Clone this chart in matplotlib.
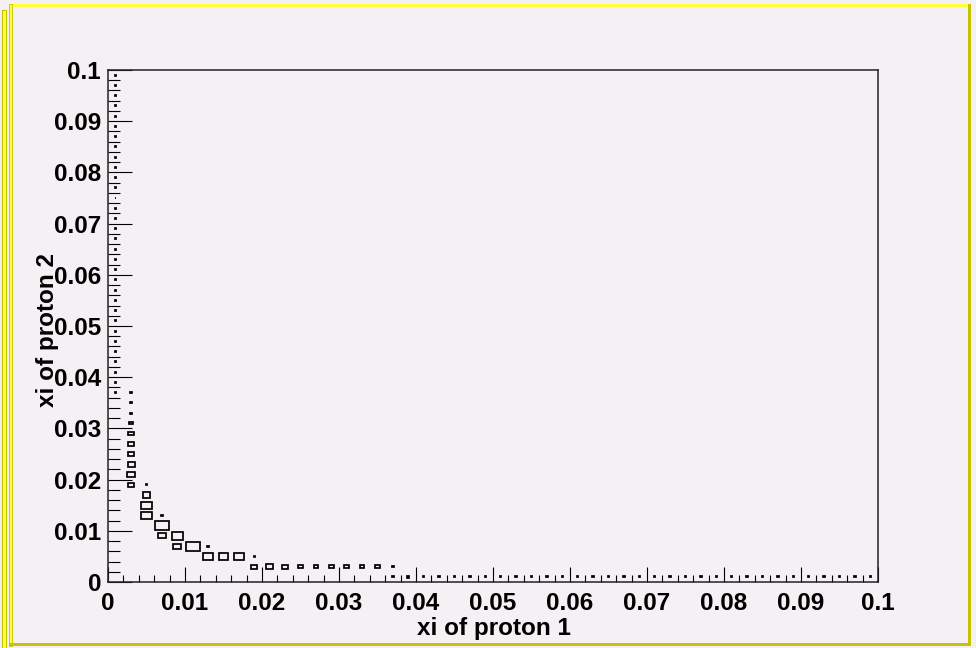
import matplotlib
matplotlib.use("Agg")
import matplotlib.pyplot as plt
from matplotlib.patches import Rectangle
import numpy as np

plt.rcParams['font.family'] = ['Liberation Sans', 'DejaVu Sans']
plt.rcParams['font.weight'] = 'bold'

# 2D histogram xi1 vs xi2, 50 x 50 bins over [0, 0.1]
nbins = 50
lo, hi = 0.0, 0.1

# filled cells in the low-xi corner (bin centres, entries)
core_xi1 = [0.003, 0.003, 0.003, 0.003, 0.003, 0.003, 0.003, 0.003, 0.003, 0.003,
            0.005, 0.005, 0.005, 0.005,
            0.007, 0.007, 0.007,
            0.009, 0.009,
            0.011, 0.013, 0.013, 0.015, 0.017, 0.019, 0.019,
            0.021, 0.023, 0.025, 0.027, 0.029, 0.031, 0.033, 0.035, 0.037]
core_xi2 = [0.037, 0.035, 0.033, 0.031, 0.029, 0.027, 0.025, 0.023, 0.021, 0.019,
            0.019, 0.017, 0.015, 0.013,
            0.013, 0.011, 0.009,
            0.009, 0.007,
            0.007, 0.007, 0.005, 0.005, 0.005, 0.005, 0.003,
            0.003, 0.003, 0.003, 0.003, 0.003, 0.003, 0.003, 0.003, 0.003]
core_n = [1, 1, 1, 7, 17, 17, 23, 25, 30, 21,
          1, 33, 63, 68,
          1, 91, 30,
          70, 32,
          100, 1, 46, 49, 46, 1, 21,
          24, 18, 10, 10, 12, 12, 10, 10, 1]

# single-entry strip along xi1 = 0.001
strip_xi2 = [0.037, 0.039, 0.041, 0.043, 0.045, 0.047, 0.049, 0.051, 0.053, 0.055,
             0.057, 0.059, 0.061, 0.063, 0.065, 0.067, 0.069, 0.071, 0.073, 0.075,
             0.077, 0.079, 0.081, 0.083, 0.085, 0.087, 0.089, 0.091, 0.093, 0.095,
             0.097, 0.099]
# single-entry strip along xi2 = 0.001
strip_xi1 = [0.037, 0.039, 0.041, 0.043, 0.045, 0.047, 0.049, 0.051, 0.053, 0.055,
             0.057, 0.059, 0.061, 0.063, 0.065, 0.067, 0.069, 0.071, 0.073, 0.075,
             0.077, 0.079, 0.081, 0.083, 0.085, 0.087, 0.089, 0.091, 0.093, 0.095,
             0.097, 0.099]
strip_n1 = [1] * len(strip_xi1)
strip_n1[1] = 2

xticks = [0, 0.01, 0.02, 0.03, 0.04, 0.05, 0.06, 0.07, 0.08, 0.09, 0.1]
tick_labels = ['0', '0.01', '0.02', '0.03', '0.04', '0.05', '0.06', '0.07', '0.08', '0.09', '0.1']

xs = core_xi1 + [0.001] * len(strip_xi2) + strip_xi1
ys = core_xi2 + strip_xi2 + [0.001] * len(strip_xi1)
ws = core_n + [1] * len(strip_xi2) + strip_n1

edges = np.linspace(lo, hi, nbins + 1)
h, xe, ye = np.histogram2d(xs, ys, bins=[edges, edges], weights=ws)

bg = '#f4f0f4'
fig = plt.figure(figsize=(9.76, 6.48), dpi=100, facecolor=bg)
ax = fig.add_axes([108 / 976, 1 - 582 / 648, 770 / 976, 512 / 648])
ax.set_facecolor(bg)

# box option: box area ~ content
hmax = h.max()
bw = xe[1] - xe[0]
bh = ye[1] - ye[0]
for i in range(nbins):
    for j in range(nbins):
        c = h[i, j]
        if c <= 0:
            continue
        r = np.sqrt(c / hmax) * 0.9
        cx = 0.5 * (xe[i] + xe[i + 1])
        cy = 0.5 * (ye[j] + ye[j + 1])
        ax.add_patch(Rectangle((cx - 0.5 * bw * r, cy - 0.5 * bh * r), bw * r, bh * r,
                               facecolor='none', edgecolor='black', lw=1.25))

ax.set_xlim(lo, hi)
ax.set_ylim(lo, hi)
ax.set_xticks(xticks)
ax.set_yticks(xticks)
ax.set_xticklabels(tick_labels, fontsize=17.5, fontweight='bold')
ax.set_yticklabels(tick_labels, fontsize=17.5, fontweight='bold')
ax.set_xticks(np.arange(0, 0.1001, 0.002), minor=True)
ax.set_yticks(np.arange(0, 0.1001, 0.002), minor=True)
ax.tick_params(axis='x', which='major', direction='in', length=10.5, width=0.8, pad=7)
ax.tick_params(axis='x', which='minor', direction='in', length=5, width=0.8)
ax.tick_params(axis='y', which='major', direction='in', length=17, width=0.8, pad=5)
ax.tick_params(axis='y', which='minor', direction='in', length=8.5, width=0.8)
for s in ax.spines.values():
    s.set_linewidth(1.1)
    s.set_color('#222222')

fig.text(494 / 976, 1 - 629 / 648, 'xi of proton 1', ha='center', va='center',
         fontsize=17.5, fontweight='bold')
fig.text(48 / 976, 1 - 330 / 648, 'xi of proton 2', ha='center', va='center',
         rotation=90, fontsize=17.5, fontweight='bold')

# window frame
def px_rect(x0, y0, x1, y1, fc, ec='none', lw=0):
    fig.add_artist(Rectangle((x0 / 976, 1 - y1 / 648), (x1 - x0) / 976, (y1 - y0) / 648,
                             transform=fig.transFigure, facecolor=fc, edgecolor=ec, lw=lw))

yellow = '#ffff3c'
olive = '#c4c400'
px_rect(2, 10, 6, 648, yellow, olive, 0.8)
px_rect(9, 4, 971, 7, yellow)
px_rect(9, 4, 12, 646, yellow, olive, 0.6)
px_rect(968, 4, 971, 646, olive)
px_rect(9, 643, 971, 646, olive)

fig.savefig('out.png', dpi=100, facecolor=bg)
